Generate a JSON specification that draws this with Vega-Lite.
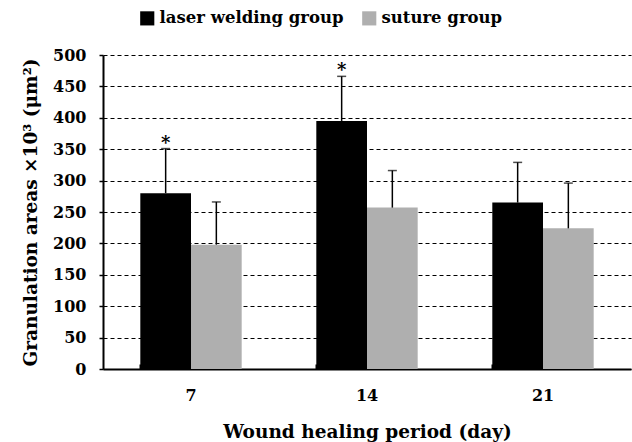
{
  "$schema": "https://vega.github.io/schema/vega-lite/v6.json",
  "width": 528,
  "height": 314,
  "autosize": {"type": "none"},
  "padding": {"left": 103, "top": 55, "right": 1, "bottom": 73},
  "background": "white",
  "data": {
    "values": [
      {"day": "7", "group": "laser welding group", "mean": 280, "upper": 351, "sig": "*"},
      {"day": "7", "group": "suture group", "mean": 198, "upper": 266, "sig": ""},
      {"day": "14", "group": "laser welding group", "mean": 395, "upper": 466, "sig": "*"},
      {"day": "14", "group": "suture group", "mean": 257, "upper": 316, "sig": ""},
      {"day": "21", "group": "laser welding group", "mean": 265, "upper": 329, "sig": ""},
      {"day": "21", "group": "suture group", "mean": 224, "upper": 296, "sig": ""}
    ]
  },
  "config": {
    "font": "DejaVu Serif",
    "view": {"stroke": null},
    "axis": {"labelFont": "DejaVu Serif", "titleFont": "DejaVu Serif", "labelColor": "black", "titleColor": "black"},
    "legend": {"labelFont": "DejaVu Serif"},
    "text": {"font": "DejaVu Serif"},
    "axisY": {
      "tickCount": 10, "labelOverlap": false,
      "grid": true, "gridColor": "black", "gridDash": [4, 3], "gridWidth": 1,
      "domainColor": "black", "domainWidth": 2, "tickColor": "black", "tickWidth": 1.5, "tickSize": 4,
      "labelFontSize": 16, "labelFontWeight": "bold", "labelPadding": 13,
      "titleFontSize": 18.5, "titleFontWeight": "bold", "titlePadding": 12
    }
  },
  "resolve": {"axis": {"x": "independent"}},
  "layer": [
    {
      "mark": {"type": "bar"},
      "encoding": {
        "x": {
          "field": "day", "type": "ordinal", "sort": ["7", "14", "21"],
          "scale": {"paddingInner": 0.424, "paddingOuter": 0.212},
          "axis": {
            "orient": "bottom", "title": "Wound healing period (day)", "labelAngle": 0,
            "ticks": false, "domain": true, "domainColor": "black", "domainWidth": 2,
            "labelFontSize": 16, "labelFontWeight": "bold", "labelPadding": 18,
            "titleFontSize": 18.5, "titleFontWeight": "bold", "titlePadding": 19
          }
        },
        "xOffset": {"field": "group", "type": "nominal", "sort": ["laser welding group", "suture group"], "scale": {"paddingInner": 0, "paddingOuter": 0}},
        "y": {
          "field": "mean", "type": "quantitative", "scale": {"domain": [0, 500]},
          "axis": {"title": "Granulation areas ×10³ (μm²)"}
        },
        "color": {
          "field": "group", "type": "nominal", "sort": ["laser welding group", "suture group"],
          "scale": {"range": ["#000000", "#afafaf"]},
          "legend": {
            "orient": "none", "legendX": 36, "legendY": -45, "direction": "horizontal", "title": null,
            "symbolType": "square", "symbolSize": 200, "symbolStrokeWidth": 0,
            "labelFontSize": 16.5, "labelFontWeight": "bold", "labelColor": "black",
            "labelLimit": 0, "columnPadding": 17, "labelOffset": 4
          }
        }
      }
    },
    {
      "mark": {"type": "rule", "color": "black", "strokeWidth": 1.5},
      "encoding": {
        "x": {
          "field": "day", "type": "ordinal", "sort": ["7", "14", "21"],
          "axis": {"orient": "bottom", "bandPosition": 0, "labels": false, "domain": false, "grid": false, "title": null, "tickSize": -5, "tickColor": "black", "tickWidth": 2}
        },
        "xOffset": {"field": "group", "type": "nominal", "sort": ["laser welding group", "suture group"]},
        "y": {"field": "mean", "type": "quantitative"},
        "y2": {"field": "upper"}
      }
    },
    {
      "mark": {"type": "tick", "color": "black", "thickness": 1.5, "size": 9},
      "encoding": {
        "x": {"field": "day", "type": "ordinal", "sort": ["7", "14", "21"], "axis": null},
        "xOffset": {"field": "group", "type": "nominal", "sort": ["laser welding group", "suture group"]},
        "y": {"field": "upper", "type": "quantitative"}
      }
    },
    {
      "transform": [{"filter": "datum.sig == '*'"}],
      "mark": {"type": "text", "dy": 0, "baseline": "alphabetic", "fontSize": 18, "fontWeight": "bold", "color": "black"},
      "encoding": {
        "x": {"field": "day", "type": "ordinal", "sort": ["7", "14", "21"], "axis": null},
        "xOffset": {"field": "group", "type": "nominal", "sort": ["laser welding group", "suture group"]},
        "y": {"field": "upper", "type": "quantitative"},
        "text": {"field": "sig"}
      }
    }
  ]
}
